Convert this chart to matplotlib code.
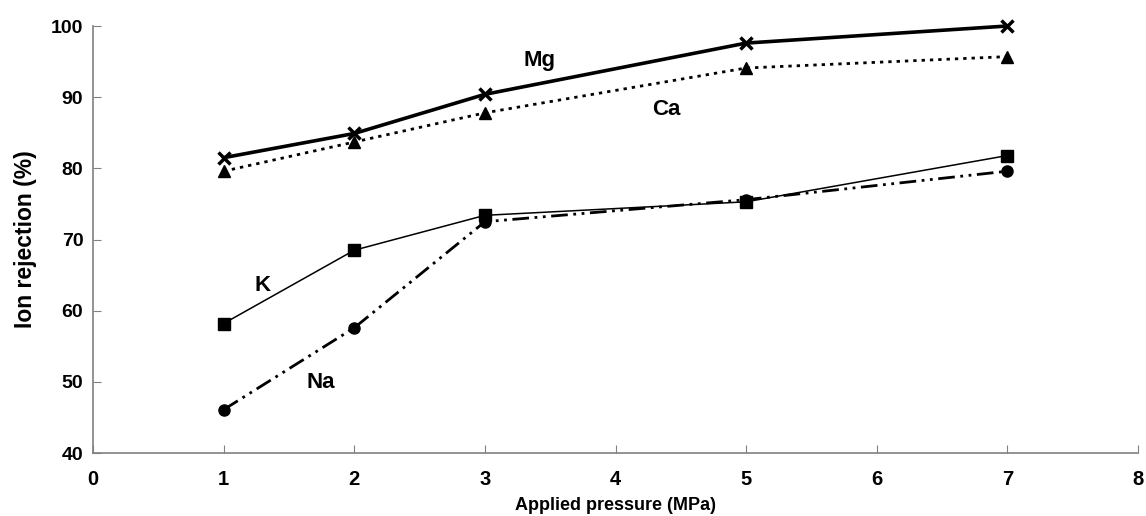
import matplotlib
matplotlib.use("Agg")
import matplotlib.pyplot as plt

pressure = [1, 2, 3, 5, 7]
mg = [81.5, 84.9, 90.4, 97.6, 100.0]
ca = [79.6, 83.7, 87.8, 94.1, 95.7]
k = [58.2, 68.5, 73.4, 75.3, 81.8]
na = [46.1, 57.6, 72.5, 75.6, 79.6]

xticks = list(range(0, 9))
yticks = list(range(40, 101, 10))

plt.rcParams['font.family'] = ['Liberation Sans', 'DejaVu Sans']
plt.rcParams['font.weight'] = 'bold'

fig = plt.figure(figsize=(11.46, 5.16), dpi=100)
ax = fig.add_axes([0.0812, 0.122, 0.9118, 0.8276])

ax.plot(pressure, mg, color='black', lw=2.6, marker='x', ms=9, mew=2.5, zorder=4, clip_on=False)
ax.plot(pressure, ca, color='black', lw=2.0, ls=(0, (1.2, 1.8)), marker='^', ms=8, zorder=3, clip_on=False)
ax.plot(pressure, k, color='black', lw=1.1, ls='-', marker='s', ms=8, zorder=3, clip_on=False)
ax.plot(pressure, na, color='black', lw=2.0, ls=(0, (6, 2, 1, 2, 1, 2)), marker='o', ms=8, zorder=3, clip_on=False)

ax.text(3.42, 95.2, 'Mg', fontsize=16, fontweight='bold', ha='center', va='center')
ax.text(4.39, 88.2, 'Ca', fontsize=16, fontweight='bold', ha='center', va='center')
ax.text(1.30, 63.5, 'K', fontsize=16, fontweight='bold', ha='center', va='center')
ax.text(1.74, 49.9, 'Na', fontsize=16, fontweight='bold', ha='center', va='center')

ax.set_xlim(0, 8)
ax.set_ylim(40, 100)
ax.set_xticks(xticks)
ax.set_yticks(yticks)

for s in ['top', 'right']:
    ax.spines[s].set_visible(False)
for s in ['left', 'bottom']:
    ax.spines[s].set_color('#808080')
    ax.spines[s].set_linewidth(1.2)

ax.tick_params(axis='y', direction='in', length=6, color='#808080', labelsize=14, pad=7)
ax.tick_params(axis='x', direction='in', length=6, color='#808080', labelsize=14.5, pad=12)
for lab in ax.get_xticklabels() + ax.get_yticklabels():
    lab.set_fontweight('bold')

ax.set_xlabel('Applied pressure (MPa)', fontsize=13, fontweight='bold', labelpad=6)
ax.set_ylabel('Ion rejection (%)', fontsize=16.5, fontweight='bold', labelpad=10)

fig.savefig('out.png', dpi=100)
